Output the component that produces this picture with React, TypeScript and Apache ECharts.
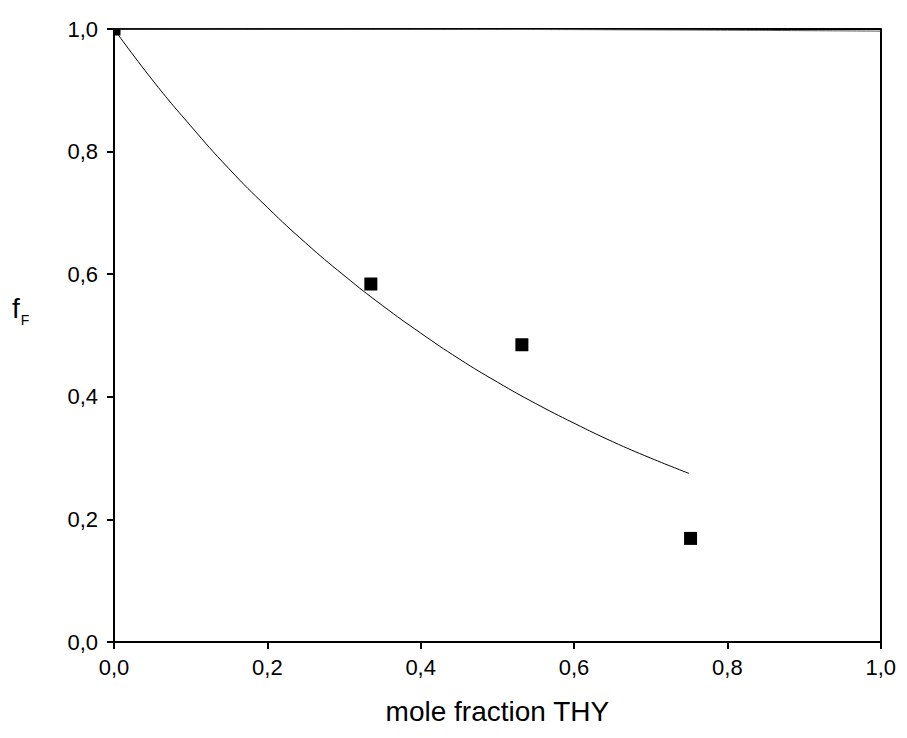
import React, { useEffect, useRef } from "react";
import * as echarts from "echarts";

const xTicks = [0, 0.2, 0.4, 0.6, 0.8, 1.0];
const yTicks = [0, 0.2, 0.4, 0.6, 0.8, 1.0];

const pointX = [0.0, 0.335, 0.532, 0.752];
const pointY = [1.0, 0.584, 0.485, 0.169];

const curveX = [0, 0.05, 0.1, 0.15, 0.2, 0.25, 0.3, 0.35, 0.4, 0.45, 0.5, 0.55, 0.6, 0.65, 0.7, 0.75];
const curveY = [1.0, 0.917, 0.842, 0.772, 0.709, 0.651, 0.598, 0.549, 0.504, 0.462, 0.424, 0.389, 0.357, 0.327, 0.3, 0.275];

const topX = [0, 0.5, 0.7, 0.8, 0.9, 1.0];
const topY = [1.0, 0.9993, 0.9985, 0.998, 0.9973, 0.9965];

const FONT = "Liberation Sans, Arial, sans-serif";
const fmt = (v: number) => v.toFixed(1).replace(".", ",");

export default function App() {
  const ref = useRef<HTMLDivElement>(null);
  useEffect(() => {
    if (!ref.current) return;
    const chart = echarts.init(ref.current, null, { renderer: "svg" });
    const mkLine = () => ({ show: true, onZero: false, lineStyle: { color: "#000", width: 2 } });
    const mkTick = () => ({ show: true, inside: false, length: 7, lineStyle: { color: "#000", width: 2 } });
    chart.setOption({
      animation: false,
      backgroundColor: "#fff",
      grid: { left: 106, right: 13, top: 21, bottom: 85 },
      xAxis: [
        {
          type: "value",
          min: 0,
          max: 1,
          interval: 0.2,
          position: "bottom",
          axisLine: mkLine(),
          axisTick: mkTick(),
          axisLabel: { color: "#000", fontSize: 22, fontFamily: FONT, margin: 14, formatter: fmt },
          splitLine: { show: false },
          name: "mole fraction THY",
          nameLocation: "middle",
          nameGap: 55,
          nameTextStyle: { color: "#000", fontSize: 28, fontFamily: FONT },
        },
        {
          type: "value",
          min: 0,
          max: 1,
          position: "top",
          axisLine: mkLine(),
          axisTick: { show: false },
          axisLabel: { show: false },
          splitLine: { show: false },
        },
      ],
      yAxis: [
        {
          type: "value",
          min: 0,
          max: 1,
          interval: 0.2,
          position: "left",
          axisLine: mkLine(),
          axisTick: mkTick(),
          axisLabel: { color: "#000", fontSize: 22, fontFamily: FONT, margin: 16, formatter: fmt },
          splitLine: { show: false },
        },
        {
          type: "value",
          min: 0,
          max: 1,
          position: "right",
          axisLine: mkLine(),
          axisTick: { show: false },
          axisLabel: { show: false },
          splitLine: { show: false },
        },
      ],
      graphic: [
        {
          type: "text",
          left: 4,
          top: 286,
          style: {
            text: "{a|f}{b|F}",
            rich: {
              a: { fontSize: 28, fontFamily: FONT, fill: "#000" },
              b: { fontSize: 14, fontFamily: FONT, fill: "#000", padding: [24, 0, 0, 1] },
            },
          },
        },
      ],
      series: [
        {
          type: "line",
          data: topX.map((x, i) => [x, topY[i]]),
          showSymbol: false,
          smooth: true,
          lineStyle: { color: "#555", width: 1 },
          z: 1,
        },
        {
          type: "line",
          data: curveX.map((x, i) => [x, curveY[i]]),
          showSymbol: false,
          smooth: true,
          lineStyle: { color: "#000", width: 1 },
          z: 2,
        },
        {
          type: "custom",
          data: pointX.map((x, i) => [x, pointY[i]]),
          clip: true,
          z: 3,
          renderItem: (params: any, api: any) => {
            const p = api.coord([api.value(0), api.value(1)]);
            const s = 13;
            return {
              type: "rect",
              shape: { x: p[0] - s / 2, y: p[1] - s / 2, width: s, height: s },
              style: { fill: "#000" },
            };
          },
        },
      ],
    });
    return () => chart.dispose();
  }, []);
  return <div ref={ref} style={{ width: 891, height: 722 }} />;
}
